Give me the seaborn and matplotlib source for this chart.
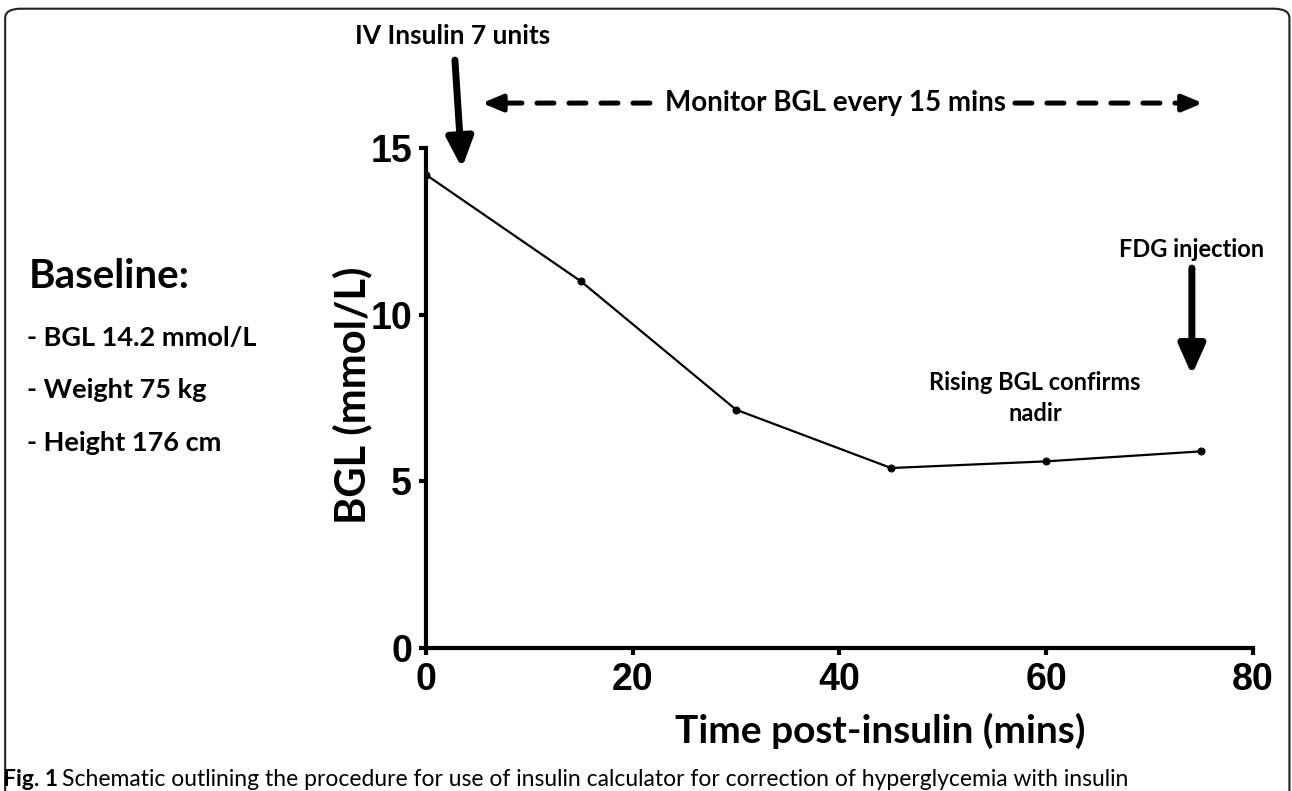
import seaborn as sns
import pandas as pd
import matplotlib.pyplot as plt
from matplotlib.patches import FancyBboxPatch

# Data
time_mins = [0, 15, 30, 45, 60, 75]
bgl_mmol = [14.2, 11.0, 7.15, 5.4, 5.6, 5.9]
x_ticks = [0, 20, 40, 60, 80]
y_ticks = [0, 5, 10, 15]
baseline_lines = ["- BGL 14.2 mmol/L", "- Weight 75 kg", "- Height 176 cm"]

data = pd.DataFrame({"time": time_mins, "bgl": bgl_mmol})

sns.set_style("ticks")
plt.rcParams["font.family"] = ["Lato", "DejaVu Sans"]
for key in ["text.color", "axes.edgecolor", "axes.labelcolor", "xtick.color", "ytick.color"]:
    plt.rcParams[key] = "black"

fig = plt.figure(figsize=(12.92, 7.91), dpi=100)
ax = fig.add_axes([0.3297, 0.1808, 0.640, 0.632])

sns.lineplot(x="time", y="bgl", data=data, ax=ax, color="black", linewidth=1.6,
             marker="o", markersize=5, markeredgecolor="black")

ax.set_xlim(0, 80)
ax.set_ylim(0, 15)
ax.set_xticks(x_ticks)
ax.set_yticks(y_ticks)
sns.despine(ax=ax)
for s in ["left", "bottom"]:
    ax.spines[s].set_linewidth(3)
ax.tick_params(width=3, length=5, pad=5, labelsize=27)
for lab in ax.get_xticklabels() + ax.get_yticklabels():
    lab.set_family("Liberation Sans")
    lab.set_fontweight("bold")

ax.set_xlabel("Time post-insulin (mins)", fontsize=28, fontweight="bold", va="center")
ax.xaxis.set_label_coords(0.549, -0.166)
ax.set_ylabel("BGL (mmol/L)", fontsize=30, fontweight="bold", va="center")
ax.yaxis.set_label_coords(-0.0895, 0.506)

solid_head = dict(lw=5, color="black", shrinkA=0, shrinkB=0,
                  arrowstyle="-|>,head_length=1.8,head_width=0.8")

# IV insulin arrow
fig.text(0.350, 0.955, "IV Insulin 7 units", fontsize=19, fontweight="bold",
         ha="center", va="center")
ax.annotate("", xy=(3.48, 14.4), xytext=(2.8, 17.64), annotation_clip=False,
            arrowprops=solid_head)

# Monitoring window: dashed shafts with solid heads
fig.text(0.647, 0.870, "Monitor BGL every 15 mins", fontsize=20, fontweight="bold",
         ha="center", va="center")
dash_y = 16.35
for x0, x1 in [(7.64, 22.64), (56.98, 73.42)]:
    ax.annotate("", xy=(x1, dash_y), xytext=(x0, dash_y), annotation_clip=False,
                arrowprops=dict(arrowstyle="-", lw=3.6, color="black",
                                linestyle=(0, (3.4, 3.0)), shrinkA=0, shrinkB=0))
for base, tip in [(7.3, 5.42), (73.5, 75.16)]:
    ax.annotate("", xy=(tip, dash_y), xytext=(base, dash_y), annotation_clip=False,
                arrowprops=dict(arrowstyle="-|>,head_length=1.2,head_width=0.5",
                                lw=3.6, color="black", shrinkA=0, shrinkB=0))

# FDG injection arrow
fig.text(0.922, 0.684, "FDG injection", fontsize=17, fontweight="bold",
         ha="center", va="center")
ax.annotate("", xy=(74.1, 8.19), xytext=(74.1, 11.4), annotation_clip=False,
            arrowprops=solid_head)

fig.text(0.801, 0.497, "Rising BGL confirms\nnadir", fontsize=17, fontweight="bold",
         ha="center", va="center", linespacing=1.45)

# Baseline block
fig.text(0.022, 0.651, "Baseline:", fontsize=29, fontweight="bold", va="center")
for i, line in enumerate(baseline_lines):
    fig.text(0.021, 0.573 - i * 0.0665, line, fontsize=19.5, fontweight="bold", va="center")

# Caption
fig.text(0.002, 0.015, "Fig. 1", fontsize=16.5, fontweight="bold", va="center")
fig.text(0.048, 0.015, "Schematic outlining the procedure for use of insulin calculator "
         "for correction of hyperglycemia with insulin", fontsize=16.5, va="center")

# Rounded frame around the figure
frame = FancyBboxPatch((0.004, -0.05), 0.994, 1.039, transform=fig.transFigure,
                       boxstyle="round,pad=0,rounding_size=0.012", fill=False,
                       edgecolor="#222222", linewidth=1.5, clip_on=False)
fig.patches.append(frame)

plt.savefig("out.png", dpi=100)
